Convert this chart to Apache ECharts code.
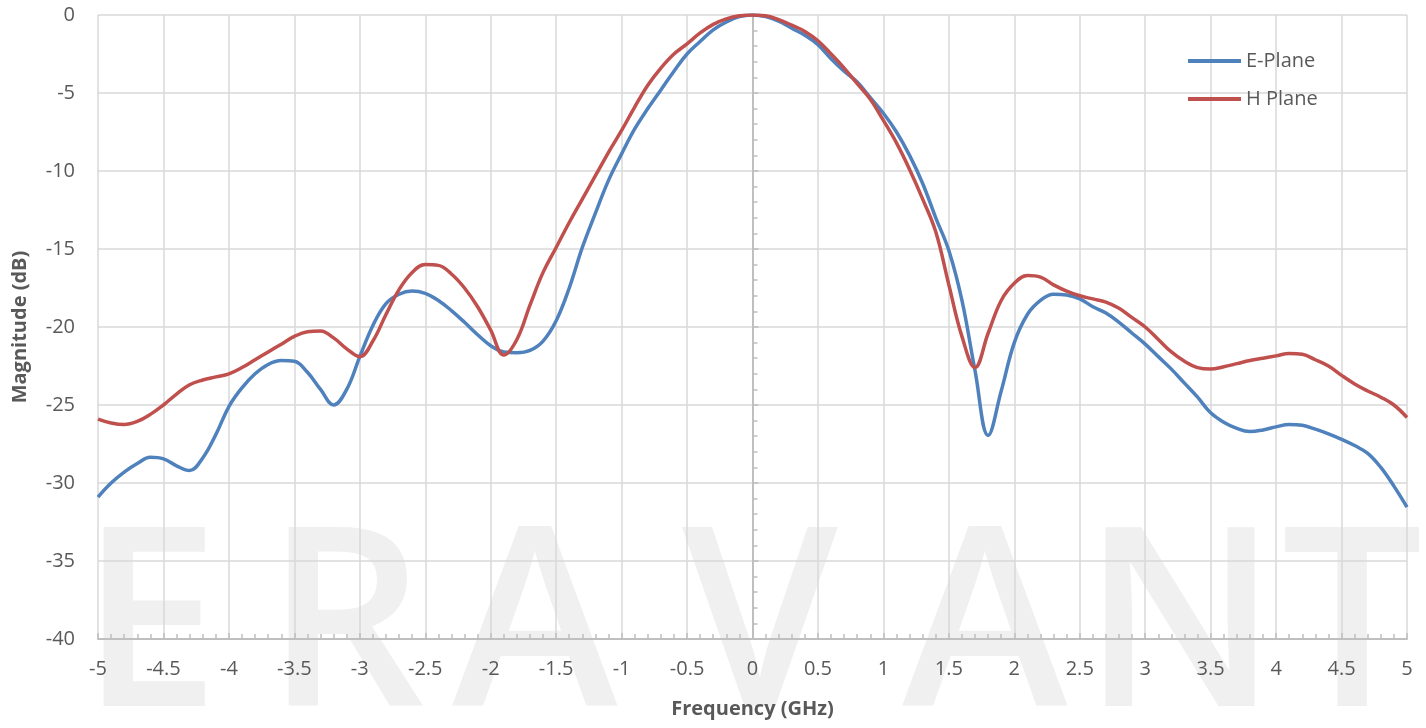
<!DOCTYPE html>
<html>
<head>
<meta charset="utf-8">
<script src="https://cdn.jsdelivr.net/npm/echarts@6/dist/echarts.min.js"></script>
<style>
html,body{margin:0;padding:0;background:#fff;}
#chart{width:1426px;height:728px;}
</style>
</head>
<body>
<div id="chart"></div>
<script>
// Frequency (GHz)
const freq = [
 -5.0,-4.9,-4.8,-4.7,-4.6,-4.5,-4.4,-4.3,-4.2,-4.1,
 -4.0,-3.9,-3.8,-3.7,-3.6,-3.5,-3.4,-3.3,-3.2,-3.1,
 -3.0,-2.9,-2.8,-2.7,-2.6,-2.5,-2.4,-2.3,-2.2,-2.1,
 -2.0,-1.9,-1.8,-1.7,-1.6,-1.5,-1.4,-1.3,-1.2,-1.1,
 -1.0,-0.9,-0.8,-0.7,-0.6,-0.5,-0.4,-0.3,-0.2,-0.1,
 0.0,0.1,0.2,0.3,0.4,0.5,0.6,0.7,0.8,0.9,
 1.0,1.1,1.2,1.3,1.4,1.5,1.6,1.7,1.8,1.9,
 2.0,2.1,2.2,2.3,2.4,2.5,2.6,2.7,2.8,2.9,
 3.0,3.1,3.2,3.3,3.4,3.5,3.6,3.7,3.8,3.9,
 4.0,4.1,4.2,4.3,4.4,4.5,4.6,4.7,4.8,4.9,5.0
];
// E-Plane magnitude (dB)
const ePlane = [
 -30.9,-30.0,-29.3,-28.75,-28.35,-28.45,-28.9,-29.2,-28.4,-26.9,
 -25.1,-23.9,-23.0,-22.4,-22.15,-22.2,-22.9,-24.0,-25.0,-24.0,
 -21.9,-19.9,-18.5,-17.9,-17.7,-17.85,-18.3,-18.95,-19.7,-20.5,
 -21.2,-21.6,-21.65,-21.5,-20.9,-19.6,-17.5,-14.9,-12.7,-10.6,
 -8.9,-7.3,-6.0,-4.8,-3.6,-2.5,-1.7,-0.95,-0.45,-0.1,
 0.0,-0.1,-0.4,-0.85,-1.3,-1.9,-2.8,-3.6,-4.3,-5.3,
 -6.3,-7.5,-9.0,-10.8,-13.0,-15.1,-18.3,-22.8,-26.95,-24.1,
 -21.0,-19.2,-18.3,-17.9,-17.95,-18.2,-18.7,-19.1,-19.7,-20.4,
 -21.1,-21.9,-22.7,-23.6,-24.5,-25.5,-26.1,-26.5,-26.7,-26.6,
 -26.4,-26.25,-26.3,-26.55,-26.85,-27.2,-27.6,-28.1,-29.0,-30.2,-31.55
];
// H Plane magnitude (dB)
const hPlane = [
 -25.9,-26.15,-26.25,-26.05,-25.6,-25.0,-24.3,-23.7,-23.4,-23.2,
 -23.0,-22.6,-22.1,-21.6,-21.1,-20.6,-20.3,-20.25,-20.7,-21.4,
 -21.9,-20.9,-19.2,-17.6,-16.5,-16.0,-16.05,-16.6,-17.5,-18.7,
 -20.2,-21.8,-20.8,-18.6,-16.5,-14.9,-13.3,-11.8,-10.3,-8.8,
 -7.4,-5.9,-4.5,-3.4,-2.5,-1.85,-1.15,-0.6,-0.25,-0.05,
 0.0,-0.05,-0.3,-0.65,-1.05,-1.65,-2.5,-3.4,-4.4,-5.4,
 -6.76,-8.2,-9.9,-11.8,-13.9,-17.3,-20.6,-22.6,-20.4,-18.3,
 -17.2,-16.7,-16.8,-17.3,-17.7,-18.0,-18.2,-18.4,-18.8,-19.4,
 -20.0,-20.8,-21.6,-22.2,-22.6,-22.7,-22.55,-22.35,-22.15,-22.0,
 -21.85,-21.7,-21.75,-22.1,-22.5,-23.1,-23.65,-24.1,-24.5,-25.0,-25.8
];
const seriesNames = ['E-Plane', 'H Plane'];
const watermarkLetters = ['E','R','A','V','A','N','T'];

const toPairs = (xs, ys) => xs.map((x, i) => [x, ys[i]]);

const wmX = [150, 345, 535, 760, 985, 1180, 1352];
const graphic = watermarkLetters.map((ch, i) => ({
  type: 'text',
  z: -100,
  silent: true,
  x: wmX[i],
  y: 510,
  style: {
    text: ch,
    font: '600 250px "Open Sans"',
    fill: '#f0f0f0',
    textAlign: 'center',
    textVerticalAlign: 'top'
  }
}));

const chart = echarts.init(document.getElementById('chart'), null, {renderer: 'canvas'});
const txt = '#595959';
chart.setOption({
  animation: false,
  backgroundColor: 'transparent',
  graphic: graphic,
  grid: {left: 98, right: 19, top: 15, bottom: 89, containLabel: false},
  legend: {
    orient: 'vertical',
    left: 1183,
    top: 46,
    itemWidth: 53,
    itemHeight: 4,
    itemGap: 18,
    icon: 'rect',
    textStyle: {color: txt, fontSize: 20, fontFamily: 'Open Sans'},
    data: seriesNames
  },
  xAxis: {
    type: 'value',
    min: -5, max: 5, interval: 0.5,
    name: 'Frequency (GHz)',
    nameLocation: 'middle',
    nameGap: 60,
    nameTextStyle: {color: txt, fontSize: 20, fontWeight: 'bold', fontFamily: 'Open Sans'},
    axisLine: {show: true, onZero: false, lineStyle: {color: '#bfbfbf', width: 2}},
    axisTick: {show: true, inside: true, length: 6, lineStyle: {color: '#bfbfbf', width: 1.5}},
    minorTick: {show: true, splitNumber: 5, length: 5, lineStyle: {color: '#bfbfbf', width: 1.5}},
    axisLabel: {color: txt, fontSize: 20, fontFamily: 'Open Sans', margin: 20},
    splitLine: {show: true, lineStyle: {color: '#d9d9d9', width: 1.5}}
  },
  yAxis: {
    type: 'value',
    min: -40, max: 0, interval: 5,
    name: 'Magnitude (dB)',
    nameLocation: 'middle',
    nameGap: 68,
    nameTextStyle: {color: txt, fontSize: 20, fontWeight: 'bold', fontFamily: 'Open Sans'},
    axisLine: {show: true, lineStyle: {color: '#bfbfbf', width: 2}},
    axisTick: {show: true, inside: true, length: 6, lineStyle: {color: '#bfbfbf', width: 1.5}},
    minorTick: {show: true, splitNumber: 5, length: 5, lineStyle: {color: '#bfbfbf', width: 1.5}},
    axisLabel: {color: txt, fontSize: 20, fontFamily: 'Open Sans', margin: 23},
    splitLine: {show: true, lineStyle: {color: '#d9d9d9', width: 1.5}}
  },
  series: [
    {
      name: seriesNames[0], type: 'line', data: toPairs(freq, ePlane),
      smooth: 0.4, showSymbol: false, symbol: 'none', z: 3,
      lineStyle: {color: '#4F81BD', width: 3.5},
      itemStyle: {color: '#4F81BD'}
    },
    {
      name: seriesNames[1], type: 'line', data: toPairs(freq, hPlane),
      smooth: 0.4, showSymbol: false, symbol: 'none', z: 4,
      lineStyle: {color: '#C0504D', width: 3.5},
      itemStyle: {color: '#C0504D'}
    }
  ]
});
</script>
</body>
</html>
